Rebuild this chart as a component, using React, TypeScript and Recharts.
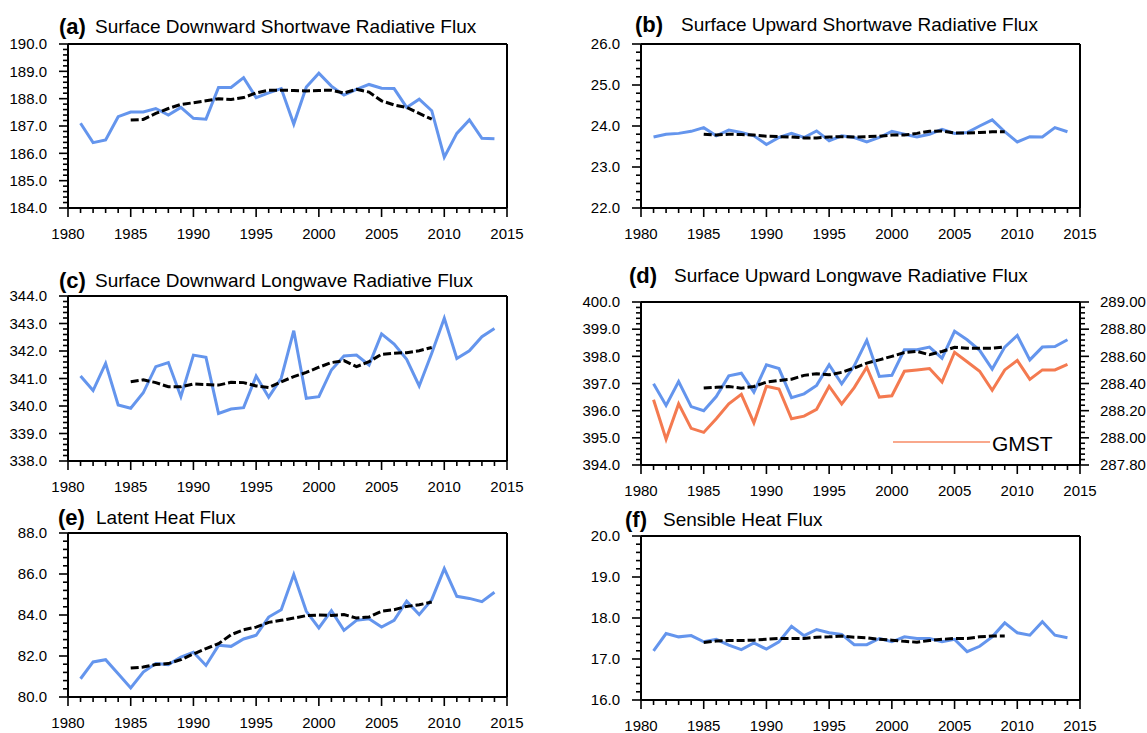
import { LineChart, Line, XAxis, YAxis } from "recharts"

const years = [
  1981, 1982, 1983, 1984, 1985, 1986, 1987, 1988, 1989, 1990, 1991, 1992, 1993, 1994, 1995, 1996, 1997,
  1998, 1999, 2000, 2001, 2002, 2003, 2004, 2005, 2006, 2007, 2008, 2009, 2010, 2011, 2012, 2013, 2014,
]
// running mean covers 1985-2009
const smoothFirstYear = 1985

const sdswFlux = [187.1, 186.39, 186.49, 187.34, 187.51, 187.51, 187.64, 187.4, 187.68, 187.28, 187.25, 188.41, 188.41, 188.77, 188.04, 188.21, 188.37, 187.07, 188.43, 188.93, 188.46, 188.13, 188.34, 188.52, 188.38, 188.37, 187.68, 187.98, 187.56, 185.86, 186.73, 187.22, 186.55, 186.53]
const sdswSmooth = [187.22, 187.24, 187.46, 187.64, 187.79, 187.85, 187.92, 188.0, 187.97, 188.04, 188.21, 188.31, 188.31, 188.3, 188.28, 188.3, 188.31, 188.21, 188.34, 188.24, 187.92, 187.77, 187.68, 187.46, 187.25]

const suswFlux = [23.73, 23.8, 23.82, 23.87, 23.96, 23.76, 23.9, 23.84, 23.76, 23.55, 23.72, 23.82, 23.72, 23.88, 23.64, 23.76, 23.72, 23.61, 23.72, 23.87, 23.8, 23.73, 23.8, 23.92, 23.82, 23.84, 24.0, 24.15, 23.86, 23.61, 23.74, 23.73, 23.96, 23.86]
const suswSmooth = [23.8, 23.78, 23.8, 23.79, 23.78, 23.75, 23.74, 23.73, 23.71, 23.71, 23.73, 23.74, 23.73, 23.74, 23.75, 23.78, 23.78, 23.82, 23.87, 23.88, 23.83, 23.83, 23.84, 23.86, 23.86]

const sdlwFlux = [341.09, 340.56, 341.55, 340.04, 339.92, 340.48, 341.43, 341.58, 340.34, 341.85, 341.77, 339.73, 339.89, 339.94, 341.09, 340.32, 341.01, 342.74, 340.28, 340.34, 341.31, 341.82, 341.85, 341.49, 342.62, 342.25, 341.7, 340.73, 341.92, 343.19, 341.73, 342.01, 342.52, 342.82]
const sdlwSmooth = [340.88, 340.95, 340.85, 340.7, 340.7, 340.8, 340.78, 340.76, 340.86, 340.85, 340.73, 340.67, 340.88, 341.07, 341.22, 341.41, 341.58, 341.65, 341.43, 341.61, 341.88, 341.92, 341.94, 342.01, 342.13]

const sulwFlux = [396.99, 396.19, 397.07, 396.15, 396.0, 396.52, 397.28, 397.38, 396.68, 397.69, 397.55, 396.48, 396.62, 396.93, 397.69, 396.99, 397.65, 398.59, 397.26, 397.3, 398.24, 398.24, 398.34, 397.93, 398.92, 398.61, 398.22, 397.53, 398.34, 398.77, 397.87, 398.34, 398.36, 398.61]
const sulwSmooth = [396.83, 396.86, 396.89, 396.83, 396.89, 397.05, 397.11, 397.16, 397.3, 397.36, 397.32, 397.41, 397.57, 397.75, 397.87, 398.0, 398.14, 398.18, 398.06, 398.18, 398.33, 398.3, 398.3, 398.3, 398.34]
const gmst = [288.28, 287.99, 288.25, 288.07, 288.04, 288.14, 288.25, 288.32, 288.11, 288.38, 288.36, 288.14, 288.16, 288.21, 288.38, 288.25, 288.37, 288.52, 288.3, 288.31, 288.49, 288.5, 288.51, 288.41, 288.63, 288.56, 288.49, 288.35, 288.5, 288.57, 288.43, 288.5, 288.5, 288.54]

const lhFlux = [80.89, 81.71, 81.82, 81.14, 80.44, 81.22, 81.63, 81.58, 81.95, 82.18, 81.54, 82.52, 82.47, 82.83, 83.01, 83.9, 84.26, 85.97, 84.18, 83.37, 84.21, 83.25, 83.74, 83.82, 83.41, 83.74, 84.67, 84.02, 84.75, 86.26, 84.91, 84.81, 84.65, 85.11]
const lhSmooth = [81.41, 81.46, 81.58, 81.63, 81.82, 82.1, 82.36, 82.6, 83.04, 83.28, 83.41, 83.64, 83.74, 83.85, 83.97, 84.0, 83.98, 84.02, 83.85, 83.9, 84.18, 84.26, 84.42, 84.5, 84.63]

const shFlux = [17.2, 17.62, 17.54, 17.57, 17.42, 17.48, 17.34, 17.23, 17.39, 17.24, 17.42, 17.8, 17.57, 17.72, 17.64, 17.6, 17.35, 17.35, 17.5, 17.42, 17.54, 17.5, 17.5, 17.42, 17.48, 17.18, 17.31, 17.54, 17.88, 17.64, 17.58, 17.91, 17.58, 17.52]
const shSmooth = [17.4, 17.44, 17.45, 17.45, 17.46, 17.48, 17.5, 17.5, 17.5, 17.53, 17.54, 17.56, 17.53, 17.52, 17.48, 17.46, 17.43, 17.41, 17.45, 17.48, 17.5, 17.5, 17.54, 17.56, 17.56]

const FONT = "'Liberation Sans', Arial, Helvetica, sans-serif"
const BLUE = "#6495ED"
const ORANGE = "#F47A50"
const axisStyle = { stroke: "#000", strokeWidth: 2 }

function tickRange(min: number, max: number, step: number) {
  const n = Math.round((max - min) / step)
  return Array.from({ length: n + 1 }, (_, i) => +(min + i * step).toFixed(4))
}
function isMajor(v: number, step: number) {
  return Math.abs(v / step - Math.round(v / step)) < 1e-6
}

const xTicks = tickRange(1980, 2015, 1)

function XTick(props: any) {
  const { x, y, payload } = props
  const major = isMajor(payload.value, 5)
  return (
    <g>
      <line x1={x} x2={x} y1={y} y2={y + (major ? 9 : 5)} stroke="#000" strokeWidth={1.6} />
      {major && (
        <text x={x} y={y + 26} dy="0.35em" textAnchor="middle" fontSize={15} fontFamily={FONT} fill="#000">
          {payload.value}
        </text>
      )}
    </g>
  )
}

function YTick(props: any) {
  const { x, y, payload, side, major, digits } = props
  const isMaj = isMajor(payload.value, major)
  const dir = side === "left" ? -1 : 1
  return (
    <g>
      <line x1={x} x2={x + dir * (isMaj ? 9 : 5)} y1={y} y2={y} stroke="#000" strokeWidth={1.6} />
      {isMaj && (
        <text
          x={x + dir * (side === "left" ? 21 : 20)}
          y={y}
          dy="0.35em"
          textAnchor={side === "left" ? "end" : "start"}
          fontSize={15}
          fontFamily={FONT}
          fill="#000"
        >
          {payload.value.toFixed(digits)}
        </text>
      )}
    </g>
  )
}

type Scale = { min: number; max: number; major: number; minor: number; digits: number }
type PanelCfg = {
  left: number
  top: number
  width: number
  height: number
  // plot-box edges inside the chart box; axes take 1px each, subtracted below
  margin: { top: number; right: number; bottom: number; left: number }
  flux: number[]
  smooth: number[]
  y: Scale
  gmst?: number[]
  right?: Scale
}

const panels: PanelCfg[] = [
  { left: 0, top: 0, width: 570, height: 250, margin: { top: 44, right: 63, bottom: 42, left: 68 }, flux: sdswFlux, smooth: sdswSmooth, y: { min: 184, max: 190, major: 1, minor: 0.2, digits: 1 } },
  { left: 570, top: 0, width: 577, height: 250, margin: { top: 44, right: 67, bottom: 42, left: 71 }, flux: suswFlux, smooth: suswSmooth, y: { min: 22, max: 26, major: 1, minor: 0.2, digits: 1 } },
  { left: 0, top: 250, width: 570, height: 262, margin: { top: 46, right: 63, bottom: 51, left: 68 }, flux: sdlwFlux, smooth: sdlwSmooth, y: { min: 338, max: 344, major: 1, minor: 0.2, digits: 1 } },
  {
    left: 570, top: 250, width: 577, height: 262, margin: { top: 52, right: 67, bottom: 47, left: 71 }, flux: sulwFlux, smooth: sulwSmooth,
    y: { min: 394, max: 400, major: 1, minor: 0.2, digits: 1 }, gmst, right: { min: 287.8, max: 289, major: 0.2, minor: 0.04, digits: 2 },
  },
  { left: 0, top: 490, width: 570, height: 243, margin: { top: 43, right: 63, bottom: 36, left: 68 }, flux: lhFlux, smooth: lhSmooth, y: { min: 80, max: 88, major: 2, minor: 0.4, digits: 1 } },
  { left: 570, top: 490, width: 577, height: 243, margin: { top: 46, right: 67, bottom: 33, left: 71 }, flux: shFlux, smooth: shSmooth, y: { min: 16, max: 20, major: 1, minor: 0.2, digits: 1 } },
]

const titles = [
  { tag: "(a)", tagX: 59, textX: 95, base: 33, text: "Surface Downward Shortwave Radiative Flux" },
  { tag: "(b)", tagX: 635, textX: 681, base: 31, text: "Surface Upward Shortwave Radiative Flux" },
  { tag: "(c)", tagX: 59, textX: 95, base: 287, text: "Surface Downward Longwave Radiative Flux" },
  { tag: "(d)", tagX: 629, textX: 674, base: 282, text: "Surface Upward Longwave Radiative Flux" },
  { tag: "(e)", tagX: 58, textX: 96, base: 524, text: "Latent Heat Flux" },
  { tag: "(f)", tagX: 625, textX: 663, base: 526, text: "Sensible Heat Flux" },
]

function Panel({ cfg }: { cfg: PanelCfg }) {
  const data = years.map((year, i) => {
    const k = year - smoothFirstYear
    return {
      year,
      flux: cfg.flux[i],
      smooth: k >= 0 && k < cfg.smooth.length ? cfg.smooth[k] : null,
      gmst: cfg.gmst ? cfg.gmst[i] : null,
    }
  })
  const ys = cfg.y
  const rs = cfg.right
  const m = cfg.margin
  const margin = { top: m.top - 1, right: m.right - 1, bottom: m.bottom - 1, left: m.left - 1 }
  return (
    <div style={{ position: "absolute", left: cfg.left, top: cfg.top }}>
      <LineChart width={cfg.width} height={cfg.height} data={data} margin={margin}>
        <XAxis
          dataKey="year"
          type="number"
          domain={[1980, 2015]}
          ticks={xTicks}
          interval={0}
          height={1}
          tickSize={0}
          tickMargin={0}
          tickLine={false}
          axisLine={axisStyle}
          tick={(p: any) => <XTick {...p} />}
        />
        <XAxis xAxisId="top" orientation="top" type="number" domain={[1980, 2015]} height={1} tick={false} tickLine={false} axisLine={axisStyle} />
        <YAxis
          yAxisId="left"
          type="number"
          domain={[ys.min, ys.max]}
          ticks={tickRange(ys.min, ys.max, ys.minor)}
          interval={0}
          width={1}
          tickSize={0}
          tickMargin={0}
          tickLine={false}
          axisLine={axisStyle}
          tick={(p: any) => <YTick {...p} side="left" major={ys.major} digits={ys.digits} />}
        />
        {rs ? (
          <YAxis
            yAxisId="right"
            orientation="right"
            type="number"
            domain={[rs.min, rs.max]}
            ticks={tickRange(rs.min, rs.max, rs.minor)}
            interval={0}
            width={1}
            tickSize={0}
            tickMargin={0}
            tickLine={false}
            axisLine={axisStyle}
            tick={(p: any) => <YTick {...p} side="right" major={rs.major} digits={rs.digits} />}
          />
        ) : (
          <YAxis yAxisId="right" orientation="right" type="number" domain={[0, 1]} width={1} tick={false} tickLine={false} axisLine={axisStyle} />
        )}
        <Line yAxisId="left" type="linear" dataKey="flux" stroke={BLUE} strokeWidth={3} dot={false} isAnimationActive={false} />
        {rs && <Line yAxisId="right" type="linear" dataKey="gmst" stroke={ORANGE} strokeWidth={3} dot={false} isAnimationActive={false} />}
        <Line yAxisId="left" type="linear" dataKey="smooth" stroke="#000" strokeWidth={3} strokeDasharray="8 3" dot={false} isAnimationActive={false} />
      </LineChart>
    </div>
  )
}

export default function App() {
  return (
    <div style={{ position: "absolute", left: 0, top: 0, width: 1147, height: 733, background: "#fff", overflow: "hidden" }}>
      {panels.map((p, i) => (
        <Panel key={i} cfg={p} />
      ))}
      <svg width={1147} height={733} style={{ position: "absolute", left: 0, top: 0, pointerEvents: "none" }}>
        {titles.map((t) => (
          <g key={t.tag} fontFamily={FONT} fill="#000">
            <text x={t.tagX} y={t.base + 1} fontSize={22} fontWeight="bold">
              {t.tag}
            </text>
            <text x={t.textX} y={t.base} fontSize={19}>
              {t.text}
            </text>
          </g>
        ))}
        <line x1={893} x2={990} y1={442} y2={442} stroke="#F9A88C" strokeWidth={2} />
        <text x={992} y={451} fontSize={21} fontFamily={FONT} fill="#000">
          GMST
        </text>
      </svg>
    </div>
  )
}
